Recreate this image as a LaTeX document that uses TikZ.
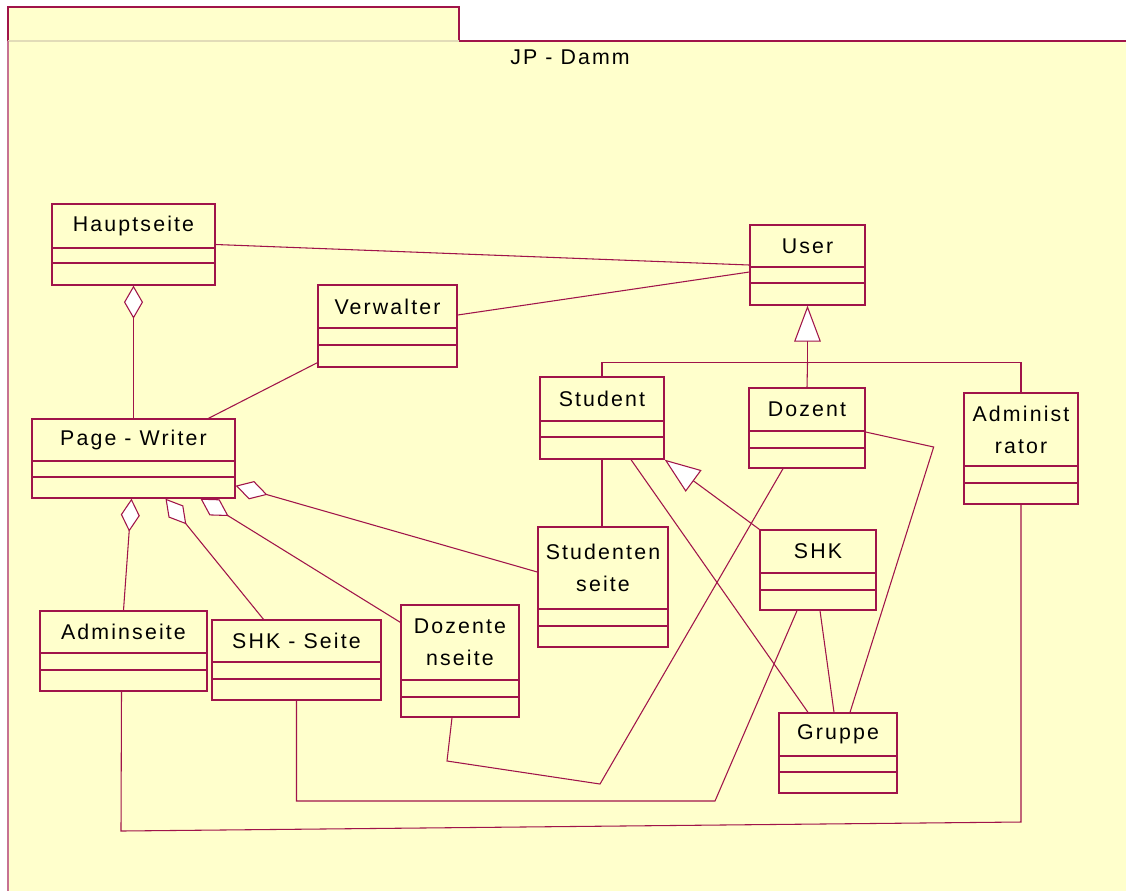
\documentclass[tikz,border=0pt]{standalone}
\usepackage{fontspec}
\setmainfont[LetterSpace=10]{Liberation Sans}
\usetikzlibrary{arrows.meta, positioning, calc, fit}
\definecolor{roseLine}{HTML}{A0144A}
\definecolor{noteYellow}{HTML}{FFFFCC}
\definecolor{tabLine}{HTML}{E2DCB8}

% class box: name, left, top, right, bottom, first line, second line, title
\newcommand{\umlclass}[8]{%
  \node[classbox, fit={(#2,#3) (#4,#5)}] (#1) {};
  \draw[classline] (#2,#6) -- (#4,#6) (#2,#7) -- (#4,#7);
  \node[classname] (#1-name) at ($(#2,#3)!0.5!(#4,#6)$) {#8};
}

\begin{document}
\begin{tikzpicture}[x=0.75pt, y=-0.75pt,
    classbox/.style={draw=roseLine, fill=noteYellow, line width=1pt, inner sep=0pt},
    classline/.style={draw=roseLine, line width=0.8pt},
    classname/.style={font=\fontsize{16}{24}\selectfont, align=center, inner sep=0pt},
    conn/.style={draw=roseLine, line width=0.8pt},
    agg/.style={conn, {Diamond[length=24.75pt, width=14.25pt, fill=white]}-},
    gen/.style={conn, {Triangle[length=27pt, width=20pt, fill=white]}-}]
    \useasboundingbox (0,0) rectangle (1126,890);

    % package
    \fill[noteYellow] (8,7) rectangle (459,41);
    \fill[noteYellow] (8,41) rectangle (1200,950);
    \draw[roseLine, line width=0.8pt] (8,41) -- (8,7) -- (459,7) -- (459,41) -- (1200,41);
    \draw[tabLine, line width=0.8pt] (8,41) -- (459,41);
    \draw[roseLine!60, line width=0.8pt] (8,41) -- (8,950);
    \node[classname] (pkgname) at (570,57) {JP - Damm};

    % classes
    \umlclass{hs}{52}{204}{215}{285}{248}{263}{Hauptseite}
    \umlclass{user}{750}{225}{865}{305}{267}{283}{User}
    \umlclass{verw}{318}{285}{457}{367}{328}{345}{Verwalter}
    \umlclass{pw}{32}{419}{235}{498}{461}{477}{Page - Writer}
    \umlclass{stud}{540}{377}{664}{459}{421}{437}{Student}
    \umlclass{doz}{749}{388}{865}{468}{431}{448}{Dozent}
    \umlclass{admin}{964}{393}{1078}{504}{466}{483}{Administ\\rator}
    \umlclass{shk}{760}{530}{876}{610}{573}{590}{SHK}
    \umlclass{studs}{538}{527}{668}{647}{609}{626}{Studenten\\seite}
    \umlclass{adms}{40}{611}{207}{691}{653}{670}{Adminseite}
    \umlclass{shks}{212}{620}{381}{700}{662}{679}{SHK - Seite}
    \umlclass{dozs}{401}{605}{519}{717}{680}{697}{Dozente\\nseite}
    \umlclass{grp}{779}{713}{897}{793}{756}{772}{Gruppe}

    % associations
    \draw[conn] (hs.east) -- (user.west);
    \draw[conn] ($(verw.east)+(0,-11)$) -- ($(user.west)+(0,7)$);
    \draw[conn] ($(verw.south west)+(0,-5)$) -- ($(pw.north)+(75,0)$);
    \draw[conn] (stud.south) -- (stud.south |- studs.north);
    \draw[conn] ($(stud.south)+(29,0)$) -- ($(grp.north)+(-30,0)$);
    \draw[conn] ($(doz.east)+(0,4)$) -- ($(doz.east)+(68,19)$) -- ($(grp.north)+(12,0)$);
    \draw[conn] ($(shk.south)+(2,0)$) -- ($(grp.north)+(-4,0)$);
    \draw[conn] ($(doz.south)+(-24,0)$) -- (600,784) -- (447,761) -- ($(dozs.south)+(-8,0)$);
    \draw[conn] ($(shk.south)+(-21,0)$) -- (715,801) -| (shks.south);
    \draw[conn] (admin.south) -- (1021,822) -- (121,831) -- ($(adms.south)+(-2,0)$);

    % aggregations
    \draw[agg] (hs.south) -- (pw.north);
    \draw[agg] ($(pw.south)+(-2,0)$) -- (adms.north);
    \draw[agg] ($(pw.south)+(32,0)$) -- ($(shks.north)+(-33,0)$);
    \draw[agg] ($(pw.south)+(67,0)$) -- ($(dozs.north west)+(0,18)$);
    \draw[agg] ($(pw.south east)+(0,-13)$) -- ($(studs.west)+(0,-15)$);

    % generalizations
    \coordinate (gbar) at ($(user.south)+(0,57)$);
    \draw[gen] (user.south) -- (gbar);
    \draw[conn] (stud.north) |- (gbar) -| (admin.north);
    \draw[conn] (gbar) -- (doz.north);
    \draw[gen] (stud.south east) -- (shk.north west);
\end{tikzpicture}
\end{document}
